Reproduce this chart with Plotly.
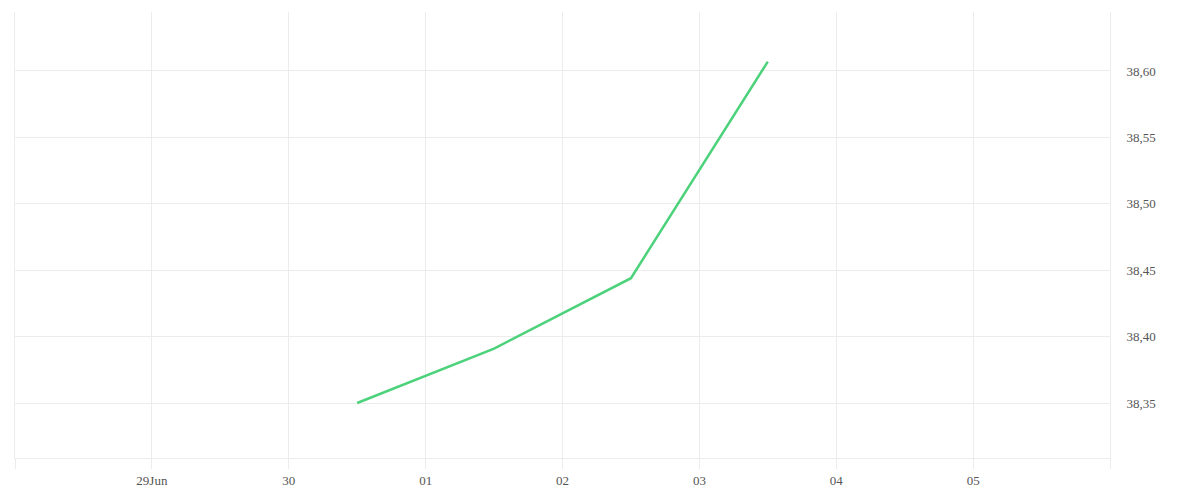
import plotly.graph_objects as go

dates = ["2023-06-30 12:00", "2023-07-01 12:00", "2023-07-02 12:00", "2023-07-03 12:00"]
values = [38.350, 38.391, 38.444, 38.607]

tick_dates = ["2023-06-28", "2023-06-29", "2023-06-30", "2023-07-01", "2023-07-02",
              "2023-07-03", "2023-07-04", "2023-07-05", "2023-07-06"]
tick_labels = ["", "29Jun", "30", "01", "02", "03", "04", "05", ""]

y_ticks = [38.35, 38.40, 38.45, 38.50, 38.55, 38.60]

fig = go.Figure()
fig.add_trace(go.Scatter(
    x=dates, y=values, mode="lines",
    line=dict(color="#4cd27a", width=2.5),
    hoverinfo="skip",
))

grid = "#ececec"
text_color = "#555555"
fig.update_layout(
    width=1200, height=500,
    margin=dict(l=7, r=98, t=4, b=50),
    paper_bgcolor="white", plot_bgcolor="white",
    showlegend=False,
    separators=",.",
    font=dict(family="Liberation Serif", size=13, color=text_color),
    xaxis=dict(
        type="date",
        range=["2023-06-28", "2023-07-06"],
        tickvals=tick_dates, ticktext=tick_labels,
        tickfont=dict(family="Liberation Serif", size=13, color=text_color),
        showgrid=True, gridcolor=grid, gridwidth=1,
        ticks="outside", ticklen=10, tickcolor=grid, tickwidth=1,
        showline=True, linecolor=grid, linewidth=1,
        zeroline=False,
    ),
    yaxis=dict(
        side="right",
        range=[38.3086, 38.6444],
        tickvals=y_ticks, tickformat=".2f",
        tickfont=dict(family="Liberation Serif", size=13, color=text_color),
        showgrid=True, gridcolor=grid, gridwidth=1,
        ticks="outside", ticklen=13, tickcolor="rgba(0,0,0,0)",
        showline=True, mirror=True, linecolor=grid, linewidth=1,
        zeroline=False,
    ),
)

fig.write_html("out.html")
